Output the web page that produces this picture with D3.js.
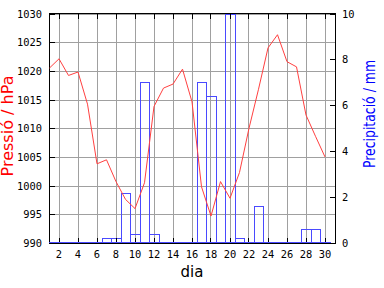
<!DOCTYPE html>
<html>
<head>
<meta charset="utf-8">
<script src="https://cdn.jsdelivr.net/npm/d3@7"></script>
<style>
  body { margin: 0; background: #fff; }
  svg { display: block; }
  .tick-label { font-family: "DejaVu Sans Mono", monospace; font-size: 10.4px; fill: #000; }
  .axis-title { font-family: "DejaVu Sans", sans-serif; font-size: 15px; }
</style>
</head>
<body>
<svg id="chart" width="384" height="288"></svg>
<script>
// Daily values
const days = d3.range(1, 31);
const pressure = [
  1020.5, 1022.1, 1019.2, 1019.8, 1014.2, 1003.8, 1004.5, 1000.7, 997.6, 996.0,
  1000.5, 1013.8, 1017.0, 1017.7, 1020.3, 1014.6, 999.8, 994.7, 1000.7, 997.8,
  1002.3, 1010.0, 1016.8, 1024.0, 1026.3, 1021.6, 1020.7, 1012.3, 1008.6, 1005.0
];
const precip = [
  0, 0, 0, 0, 0, 0, 0.2, 0.2, 2.2, 0.4,
  7.0, 0.4, 0, 0, 0, 0, 7.0, 6.4, 0, 10,
  0.2, 0, 1.6, 0, 0, 0, 0, 0.6, 0.6, 0
];
const pressureTicks = [990, 995, 1000, 1005, 1010, 1015, 1020, 1025, 1030];
const precipTicks = [0, 2, 4, 6, 8, 10];
const dayTicks = [2, 4, 6, 8, 10, 12, 14, 16, 18, 20, 22, 24, 26, 28, 30];

// Plot box
const plotLeft = 49, plotRight = 335, plotTop = 13.5, plotBottom = 243;

const svg = d3.select("#chart");
svg.append("rect").attr("width", 384).attr("height", 288).attr("fill", "#fff");

const x = d3.scaleLinear().domain([1, 31]).range([49.5, 334.5]);
const yP = d3.scaleLinear().domain([990, 1030]).range([plotBottom, plotTop]);
const yR = d3.scaleLinear().domain([0, 10]).range([plotBottom, plotTop]);

svg.append("defs").append("clipPath").attr("id", "plotClip")
  .append("rect")
  .attr("x", plotLeft).attr("y", plotTop)
  .attr("width", plotRight - plotLeft).attr("height", plotBottom - plotTop);

const grid = svg.append("g").attr("shape-rendering", "crispEdges").attr("stroke", "#a0a0a0");

// Horizontal gridlines at pressure ticks
grid.selectAll(".hg")
  .data(pressureTicks)
  .enter()
  .append("line")
  .attr("x1", plotLeft).attr("x2", plotRight)
  .attr("y1", (d) => Math.round(yP(d)) + 0.5)
  .attr("y2", (d) => Math.round(yP(d)) + 0.5);

// Vertical gridlines at even days
grid.selectAll(".vg")
  .data(dayTicks)
  .enter()
  .append("line")
  .attr("x1", (d) => Math.floor(x(d)) + 0.5)
  .attr("x2", (d) => Math.floor(x(d)) + 0.5)
  .attr("y1", plotTop).attr("y2", plotBottom);

// Axes frame first, so the zero-height bars can sit on the bottom edge
const axes = svg.append("g").attr("shape-rendering", "crispEdges").attr("stroke", "#000");
axes.append("rect")
  .attr("x", plotLeft + 0.5).attr("y", plotTop)
  .attr("width", plotRight - plotLeft).attr("height", plotBottom - plotTop)
  .attr("fill", "none");

// Precipitation bars (outline only); drawn as paths so that 0 mm still shows a baseline
const halfBar = (x(2) - x(1)) / 2;
const baseY = Math.round(plotBottom) - 0.5;
svg.append("g")
  .attr("clip-path", "url(#plotClip)")
  .attr("shape-rendering", "crispEdges")
  .selectAll("path")
  .data(days)
  .enter()
  .append("path")
  .attr("d", (d, i) => {
    const x0 = Math.round(x(d) - halfBar) + 0.5;
    const x1 = Math.round(x(d) + halfBar) + 0.5;
    const yt = Math.min(Math.round(yR(precip[i])) + 0.5, baseY);
    return `M${x0},${baseY}V${yt}H${x1}V${baseY}Z`;
  })
  .attr("fill", "none")
  .attr("stroke", "#4a4aff")
  .attr("stroke-width", 1);

// Pressure line
const line = d3.line()
  .x((d) => x(d))
  .y((d, i) => yP(pressure[i]));

svg.append("path")
  .datum(days)
  .attr("clip-path", "url(#plotClip)")
  .attr("d", line)
  .attr("fill", "none")
  .attr("stroke", "#ff4040")
  .attr("stroke-width", 1);

const ticks = svg.append("g").attr("shape-rendering", "crispEdges").attr("stroke", "#000");

// Inner ticks, left (pressure)
ticks.selectAll(".lt")
  .data(pressureTicks)
  .enter()
  .append("line")
  .attr("x1", plotLeft).attr("x2", plotLeft + 6)
  .attr("y1", (d) => Math.round(yP(d)) + 0.5)
  .attr("y2", (d) => Math.round(yP(d)) + 0.5);

// Inner ticks, right (precipitation)
ticks.selectAll(".rt")
  .data(precipTicks)
  .enter()
  .append("line")
  .attr("x1", plotRight - 5).attr("x2", plotRight)
  .attr("y1", (d) => Math.round(yR(d)) + 0.5)
  .attr("y2", (d) => Math.round(yR(d)) + 0.5);

// Inner ticks, top and bottom (days)
ticks.selectAll(".tt")
  .data(dayTicks)
  .enter()
  .append("line")
  .attr("x1", (d) => Math.floor(x(d)) + 0.5)
  .attr("x2", (d) => Math.floor(x(d)) + 0.5)
  .attr("y1", plotTop).attr("y2", plotTop + 5);

ticks.selectAll(".bt")
  .data(dayTicks)
  .enter()
  .append("line")
  .attr("x1", (d) => Math.floor(x(d)) + 0.5)
  .attr("x2", (d) => Math.floor(x(d)) + 0.5)
  .attr("y1", plotBottom - 5).attr("y2", plotBottom - 1);

// Tick labels
svg.append("g").selectAll("text")
  .data(pressureTicks)
  .enter()
  .append("text")
  .attr("class", "tick-label")
  .attr("x", 42)
  .attr("y", (d) => yP(d) + 4)
  .attr("text-anchor", "end")
  .text((d) => d);

svg.append("g").selectAll("text")
  .data(precipTicks)
  .enter()
  .append("text")
  .attr("class", "tick-label")
  .attr("x", 342)
  .attr("y", (d) => yR(d) + 4)
  .attr("text-anchor", "start")
  .text((d) => d);

svg.append("g").selectAll("text")
  .data(dayTicks)
  .enter()
  .append("text")
  .attr("class", "tick-label")
  .attr("x", (d) => x(d))
  .attr("y", 258)
  .attr("text-anchor", "middle")
  .text((d) => d);

// Axis titles
svg.append("text")
  .attr("class", "axis-title")
  .attr("transform", "translate(13,126) rotate(-90)")
  .attr("text-anchor", "middle")
  .attr("fill", "#ff0000")
  .attr("textLength", 101)
  .attr("lengthAdjust", "spacingAndGlyphs")
  .text("Pressió / hPa");

svg.append("text")
  .attr("class", "axis-title")
  .attr("transform", "translate(375,114) rotate(-90)")
  .attr("text-anchor", "middle")
  .attr("fill", "#0000ff")
  .attr("textLength", 108)
  .attr("lengthAdjust", "spacingAndGlyphs")
  .text("Precipitació / mm");

svg.append("text")
  .attr("class", "axis-title")
  .attr("x", (plotLeft + plotRight) / 2)
  .attr("y", 277)
  .attr("text-anchor", "middle")
  .attr("fill", "#000")
  .text("dia");
</script>
</body>
</html>
